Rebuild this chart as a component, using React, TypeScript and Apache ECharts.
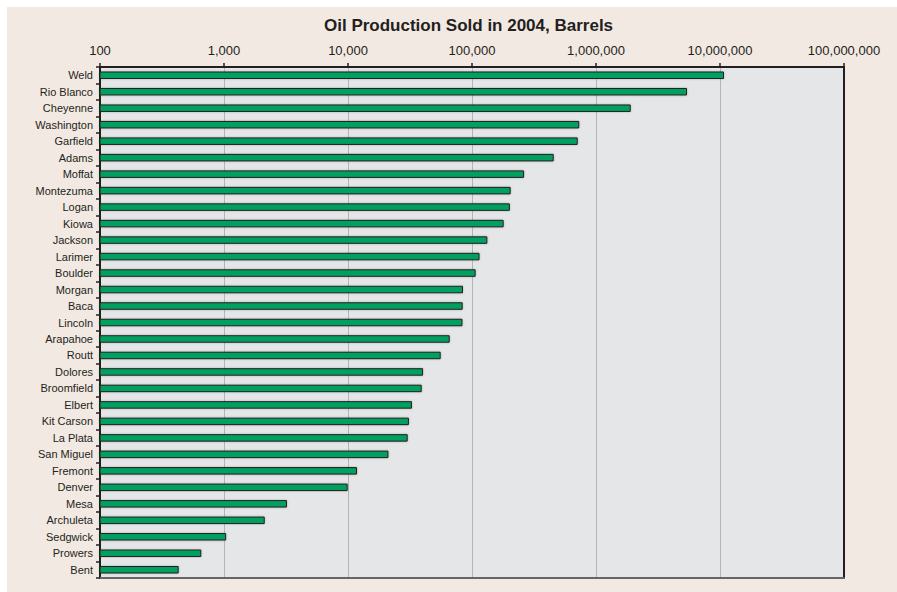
import React, { useEffect, useRef } from "react";
import * as echarts from "echarts";

const counties: string[] = [
  "Weld", "Rio Blanco", "Cheyenne", "Washington", "Garfield", "Adams", "Moffat",
  "Montezuma", "Logan", "Kiowa", "Jackson", "Larimer", "Boulder", "Morgan", "Baca",
  "Lincoln", "Arapahoe", "Routt", "Dolores", "Broomfield", "Elbert", "Kit Carson",
  "La Plata", "San Miguel", "Fremont", "Denver", "Mesa", "Archuleta", "Sedgwick",
  "Prowers", "Bent",
];

const barrels: number[] = [
  10770000, 5420000, 1905000, 733000, 712000, 456000, 263000,
  205000, 202000, 180000, 133000, 115000, 107000, 84600, 84100,
  83800, 66100, 55900, 40300, 39300, 32800, 31000,
  30300, 21200, 11820, 9940, 3220, 2130, 1040,
  656, 431,
];

const axisMin = 100;
const axisMax = 100000000;

const FONT = "'Liberation Sans', Arial, Helvetica, sans-serif";

export default function App() {
  const ref = useRef<HTMLDivElement>(null);

  useEffect(() => {
    if (!ref.current) return;
    const chart = echarts.init(ref.current, undefined, { renderer: "svg" });
    chart.setOption({
      animation: false,
      backgroundColor: "#f2e9e2",
      title: {
        text: "Oil Production Sold in 2004, Barrels",
        left: 317,
        top: 10,
        padding: 0,
        textStyle: { fontFamily: FONT, fontSize: 17, fontWeight: "bold", color: "#231f20" },
      },
      grid: {
        left: 93,
        right: 53,
        top: 60,
        bottom: 14,
        show: true,
        backgroundColor: "#e5e6e8",
        borderWidth: 0,
      },
      xAxis: [
        {
          type: "log",
          logBase: 10,
          min: axisMin,
          max: axisMax,
          position: "top",
          axisLine: { show: true, lineStyle: { color: "#231f20", width: 2 } },
          axisTick: { show: true, inside: false, length: 4, lineStyle: { color: "#231f20", width: 1.5 } },
          minorTick: { show: false },
          axisLabel: {
            margin: 10,
            fontFamily: FONT,
            fontSize: 13,
            color: "#231f20",
            formatter: (v: number) => Math.round(v).toLocaleString("en-US"),
          },
          splitLine: { show: true, lineStyle: { color: "#b4b5b8", width: 1 } },
        },
        {
          type: "log",
          logBase: 10,
          min: axisMin,
          max: axisMax,
          position: "bottom",
          axisLine: { show: true, lineStyle: { color: "#666666", width: 2 } },
          axisTick: { show: false },
          axisLabel: { show: false },
          splitLine: { show: false },
        },
      ],
      yAxis: [
        {
          type: "category",
          data: counties,
          inverse: true,
          position: "left",
          axisLine: { show: true, lineStyle: { color: "#231f20", width: 2 } },
          axisTick: { show: true, length: 4, alignWithLabel: false, lineStyle: { color: "#231f20", width: 1.5 } },
          axisLabel: { margin: 7, fontFamily: FONT, fontSize: 11, color: "#231f20" },
          splitLine: { show: false },
        },
        {
          type: "category",
          data: counties,
          inverse: true,
          position: "right",
          axisLine: { show: true, lineStyle: { color: "#231f20", width: 2 } },
          axisTick: { show: false },
          axisLabel: { show: false },
          splitLine: { show: false },
        },
      ],
      series: [
        {
          type: "bar",
          xAxisIndex: 0,
          yAxisIndex: 0,
          data: barrels,
          barWidth: 7.5,
          itemStyle: {
            color: "#00a060",
            borderColor: "#231f20",
            borderWidth: 1,
            shadowColor: "rgba(0,0,0,0.25)",
            shadowBlur: 2,
          },
        },
      ],
    });
    return () => chart.dispose();
  }, []);

  return (
    <div
      ref={ref}
      style={{ position: "absolute", left: 7, top: 7, width: 890, height: 585 }}
    />
  );
}
